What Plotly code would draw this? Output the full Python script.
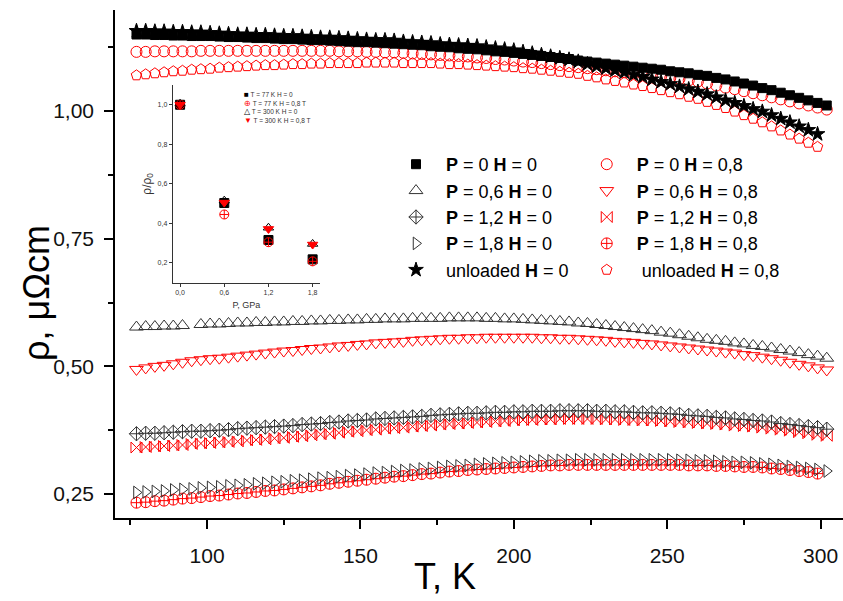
import plotly.graph_objects as go

# ---------------- data ----------------
T = [77, 80, 83, 86, 89, 92, 95, 98, 101, 104, 107, 110, 113, 116, 119, 122, 125, 128,
     131, 134, 137, 140, 143, 146, 149, 152, 155, 158, 161, 164, 167, 170, 173, 176,
     179, 182, 185, 188, 191, 194, 197, 200, 203, 206, 209, 212, 215, 218, 221, 224,
     227, 230, 233, 236, 239, 242, 245, 248, 251, 254, 257, 260, 263, 266, 269, 272,
     275, 278, 281, 284, 287, 290, 293, 296, 299, 302]

rho_P0_H0 = [1.150, 1.150, 1.149, 1.149, 1.148, 1.148, 1.147, 1.147, 1.147, 1.146, 1.145, 1.145,
             1.144, 1.143, 1.143, 1.142, 1.141, 1.141, 1.140, 1.139, 1.139, 1.138, 1.137, 1.136,
             1.135, 1.135, 1.134, 1.133, 1.132, 1.131, 1.130, 1.129, 1.127, 1.126, 1.125, 1.123,
             1.122, 1.121, 1.119, 1.117, 1.116, 1.114, 1.112, 1.110, 1.108, 1.106, 1.104, 1.102,
             1.099, 1.097, 1.095, 1.093, 1.091, 1.089, 1.087, 1.085, 1.083, 1.081, 1.078, 1.076,
             1.074, 1.071, 1.069, 1.065, 1.062, 1.058, 1.054, 1.050, 1.045, 1.041, 1.036, 1.031,
             1.026, 1.021, 1.016, 1.011]

rho_unl_H0 = [1.157, 1.157, 1.156, 1.156, 1.155, 1.155, 1.154, 1.154, 1.153, 1.152, 1.151, 1.150,
              1.150, 1.149, 1.149, 1.148, 1.147, 1.147, 1.146, 1.145, 1.144, 1.144, 1.143, 1.142,
              1.141, 1.140, 1.139, 1.139, 1.138, 1.136, 1.135, 1.134, 1.133, 1.131, 1.130, 1.129,
              1.128, 1.127, 1.125, 1.123, 1.121, 1.119, 1.116, 1.113, 1.110, 1.107, 1.104, 1.101,
              1.097, 1.092, 1.088, 1.084, 1.080, 1.076, 1.071, 1.067, 1.062, 1.057, 1.053, 1.048,
              1.043, 1.038, 1.033, 1.027, 1.021, 1.016, 1.010, 1.004, 0.999, 0.992, 0.985, 0.978,
              0.970, 0.963, 0.955, None]

rho_P0_H08 = [1.116, 1.116, 1.117, 1.117, 1.117, 1.117, 1.117, 1.118, 1.118, 1.118, 1.118, 1.118,
              1.118, 1.118, 1.118, 1.118, 1.118, 1.118, 1.118, 1.118, 1.118, 1.118, 1.117, 1.117,
              1.117, 1.116, 1.116, 1.115, 1.115, 1.114, 1.113, 1.112, 1.111, 1.110, 1.109, 1.108,
              1.107, 1.105, 1.104, 1.102, 1.101, 1.099, 1.097, 1.096, 1.094, 1.092, 1.090, 1.088,
              1.086, 1.084, 1.082, 1.080, 1.078, 1.076, 1.074, 1.072, 1.070, 1.068, 1.065, 1.063,
              1.060, 1.058, 1.054, 1.050, 1.046, 1.043, 1.039, 1.035, 1.031, 1.027, 1.023, 1.019,
              1.015, 1.011, 1.007, 1.003]

rho_unl_H08 = [1.070, 1.072, 1.074, 1.076, 1.078, 1.079, 1.081, 1.082, 1.083, 1.085, 1.086, 1.087,
               1.088, 1.089, 1.090, 1.090, 1.091, 1.092, 1.092, 1.093, 1.093, 1.094, 1.094, 1.094,
               1.094, 1.095, 1.095, 1.095, 1.095, 1.094, 1.094, 1.094, 1.094, 1.093, 1.092, 1.092,
               1.091, 1.090, 1.089, 1.088, 1.087, 1.086, 1.084, 1.083, 1.081, 1.079, 1.077, 1.075,
               1.073, 1.069, 1.066, 1.062, 1.059, 1.056, 1.052, 1.049, 1.045, 1.041, 1.037, 1.033,
               1.028, 1.024, 1.018, 1.012, 1.006, 0.999, 0.992, 0.985, 0.978, 0.970, 0.962, 0.954,
               0.946, 0.938, 0.930, None]

rho_P06_H0 = [0.577, 0.578, 0.578, 0.579, 0.579, 0.580, None, 0.582, 0.583, 0.583, 0.584, 0.585,
              0.585, 0.586, 0.586, 0.587, 0.587, 0.588, 0.588, 0.589, 0.589, 0.590, 0.590, 0.591,
              0.591, 0.592, 0.592, 0.593, 0.593, 0.593, 0.594, 0.594, 0.594, 0.594, 0.595, 0.595,
              0.595, 0.595, 0.594, 0.594, 0.593, 0.593, 0.592, 0.591, 0.590, 0.589, 0.588, 0.587,
              0.585, 0.584, 0.582, 0.580, 0.578, 0.576, 0.574, 0.572, 0.570, 0.567, 0.565, 0.562,
              0.559, 0.556, 0.553, 0.551, 0.549, 0.546, 0.544, 0.541, 0.539, 0.536, 0.533, 0.530,
              0.527, 0.523, 0.520, 0.516]

rho_P06_H08 = [0.494, 0.497, 0.500, 0.502, 0.505, 0.508, 0.511, 0.513, 0.515, 0.516, 0.518, 0.520,
               0.522, 0.524, 0.526, 0.528, 0.530, 0.531, 0.533, 0.535, 0.536, 0.538, 0.540, 0.541,
               0.543, 0.544, 0.546, 0.547, 0.548, 0.549, 0.551, 0.552, 0.553, 0.554, 0.555, 0.555,
               0.556, 0.556, 0.557, 0.557, 0.557, 0.557, 0.557, 0.557, 0.556, 0.556, 0.555, 0.555,
               0.554, 0.553, 0.552, 0.551, 0.549, 0.548, 0.547, 0.545, 0.544, 0.542, 0.540, 0.538,
               0.536, 0.534, 0.532, 0.530, 0.528, 0.526, 0.523, 0.521, 0.518, 0.515, 0.512, 0.508,
               0.504, 0.501, 0.497, 0.493]

rho_P12_H0 = [0.368, 0.369, 0.369, 0.370, 0.371, 0.372, 0.373, 0.373, 0.374, 0.375, 0.376, 0.378,
              0.379, 0.380, 0.381, 0.382, 0.383, 0.384, 0.386, 0.387, 0.388, 0.390, 0.391, 0.393,
              0.394, 0.395, 0.397, 0.398, 0.399, 0.400, 0.401, 0.402, 0.404, 0.405, 0.406, 0.407,
              0.408, 0.408, 0.409, 0.410, 0.410, 0.411, 0.411, 0.412, 0.412, 0.412, 0.413, 0.413,
              0.413, 0.413, 0.412, 0.412, 0.411, 0.411, 0.410, 0.409, 0.409, 0.408, 0.407, 0.406,
              0.404, 0.403, 0.402, 0.400, 0.399, 0.397, 0.396, 0.394, 0.393, 0.391, 0.388, 0.386,
              0.384, 0.382, 0.380, 0.377]

rho_P12_H08 = [0.341, 0.342, 0.343, 0.344, 0.345, 0.346, 0.348, 0.349, 0.350, 0.351, 0.352, 0.353,
               0.355, 0.356, 0.357, 0.359, 0.360, 0.362, 0.363, 0.365, 0.367, 0.368, 0.370, 0.372,
               0.373, 0.375, 0.376, 0.378, 0.379, 0.380, 0.382, 0.383, 0.384, 0.386, 0.387, 0.388,
               0.389, 0.390, 0.391, 0.392, 0.393, 0.394, 0.395, 0.395, 0.396, 0.396, 0.397, 0.397,
               0.397, 0.397, 0.397, 0.396, 0.396, 0.395, 0.395, 0.394, 0.394, 0.393, 0.392, 0.391,
               0.390, 0.389, 0.388, 0.387, 0.386, 0.384, 0.383, 0.382, 0.380, 0.378, 0.376, 0.374,
               0.371, 0.369, 0.366, 0.364]

rho_P18_H0 = [0.253, 0.254, 0.255, 0.256, 0.258, 0.259, 0.260, 0.262, 0.263, 0.264, 0.266, 0.267,
              0.268, 0.270, 0.271, 0.273, 0.274, 0.276, 0.277, 0.279, 0.281, 0.282, 0.284, 0.286,
              0.287, 0.289, 0.291, 0.292, 0.294, 0.296, 0.297, 0.299, 0.300, 0.302, 0.304, 0.305,
              0.306, 0.308, 0.309, 0.310, 0.311, 0.312, 0.313, 0.314, 0.315, 0.315, 0.316, 0.316,
              0.317, 0.317, 0.317, 0.317, 0.317, 0.317, 0.317, 0.317, 0.317, 0.317, 0.317, 0.316,
              0.316, 0.315, 0.315, 0.314, 0.313, 0.312, 0.312, 0.311, 0.309, 0.308, 0.306, 0.304,
              0.302, 0.300, 0.298, 0.295]

rho_P18_H08 = [0.233, 0.234, 0.236, 0.237, 0.239, 0.241, 0.242, 0.244, 0.246, 0.247, 0.249, 0.251,
               0.252, 0.254, 0.256, 0.257, 0.259, 0.261, 0.263, 0.265, 0.267, 0.270, 0.272, 0.274,
               0.276, 0.278, 0.280, 0.282, 0.284, 0.285, 0.287, 0.289, 0.290, 0.292, 0.294, 0.295,
               0.297, 0.298, 0.299, 0.300, 0.301, 0.302, 0.303, 0.304, 0.305, 0.306, 0.306, 0.307,
               0.307, 0.307, 0.307, 0.307, 0.307, 0.307, 0.307, 0.307, 0.307, 0.307, 0.307, 0.307,
               0.306, 0.306, 0.306, 0.305, 0.305, 0.304, 0.303, 0.303, 0.302, 0.300, 0.299, 0.297,
               0.295, 0.293, 0.290, None]

# inset: normalised resistivity vs pressure
P_inset = [0.0, 0.6, 1.2, 1.8]
norm_77_H0 = [1.000, 0.503, 0.316, 0.218]
norm_77_H08 = [1.000, 0.445, 0.305, 0.208]
norm_300_H0 = [1.005, 0.515, 0.378, 0.296]
norm_300_H08 = [1.000, 0.505, 0.372, 0.293]

y_tick_vals = [0.25, 0.50, 0.75, 1.00]
y_tick_text = ["0,25", "0,50", "0,75", "1,00"]
x_tick_vals = [100, 150, 200, 250, 300]
inset_x_ticks = [0.0, 0.6, 1.2, 1.8]
inset_x_text = ["0,0", "0,6", "1,2", "1,8"]
inset_y_ticks = [0.2, 0.4, 0.6, 0.8, 1.0]
inset_y_text = ["0,2", "0,4", "0,6", "0,8", "1,0"]

# ---------------- figure ----------------
FONT = "Liberation Sans, Arial, sans-serif"
BLACK = "#000000"
GREY = "#333333"
RED = "#ff0000"
NB = "\u00a0\u00a0"  # small gap between legend symbol and text

fig = go.Figure()

red_series = [
    (NB + "<b>P</b> = 0 <b>H</b> = 0,8", rho_P0_H08, "circle-open", 11),
    (NB + "<b>P</b> = 0,6 <b>H</b> = 0,8", rho_P06_H08, "triangle-down-open", 12),
    (NB + "<b>P</b> = 1,2 <b>H</b> = 0,8", rho_P12_H08, "bowtie-open", 11),
    (NB + "<b>P</b> = 1,8 <b>H</b> = 0,8", rho_P18_H08, "circle-cross-open", 11),
    (NB + "\u00a0unloaded <b>H</b> = 0,8", rho_unl_H08, "pentagon-open", 11),
]
black_series = [
    (NB + "<b>P</b> = 0 <b>H</b> = 0", rho_P0_H0, "square", 9, BLACK),
    (NB + "<b>P</b> = 0,6 <b>H</b> = 0", rho_P06_H0, "triangle-up-open", 12, GREY),
    (NB + "<b>P</b> = 1,2 <b>H</b> = 0", rho_P12_H0, "diamond-cross-open", 11, GREY),
    (NB + "<b>P</b> = 1,8 <b>H</b> = 0", rho_P18_H0, "triangle-right-open", 11, GREY),
    (NB + "unloaded <b>H</b> = 0", rho_unl_H0, "star", 11, BLACK),
]

for i, (name, vals, sym, size) in enumerate(red_series):
    fig.add_trace(go.Scatter(
        x=T, y=vals, mode="markers", name=name, legend="legend2", legendrank=i + 1,
        marker=dict(symbol=sym, size=size, color=RED, line=dict(color=RED, width=1)),
    ))

for i, (name, vals, sym, size, col) in enumerate(black_series):
    fig.add_trace(go.Scatter(
        x=T, y=vals, mode="markers", name=name, legend="legend", legendrank=i + 1,
        marker=dict(symbol=sym, size=size, color=col, line=dict(color=col, width=1)),
    ))

# inset traces
inset_series = [
    (norm_77_H0, "square", BLACK),
    (norm_77_H08, "circle-cross-open", RED),
    (norm_300_H0, "triangle-up-open", BLACK),
    (norm_300_H08, "triangle-down", RED),
]
for vals, sym, col in inset_series:
    fig.add_trace(go.Scatter(
        x=P_inset, y=vals, mode="markers", xaxis="x2", yaxis="y2", showlegend=False,
        marker=dict(symbol=sym, size=9, color=col, line=dict(color=col, width=1)),
    ))

axis_common = dict(showline=True, linecolor=BLACK, linewidth=1.5, ticks="outside",
                   tickcolor=BLACK, tickwidth=1.5, ticklen=9, showgrid=False,
                   zeroline=False, mirror=False)

fig.update_layout(
    width=843, height=601,
    margin=dict(l=115, r=0, t=10, b=83),
    paper_bgcolor="white", plot_bgcolor="white",
    font=dict(family=FONT, color=BLACK),
    xaxis=dict(
        **axis_common, range=[70, 307.3], tickmode="array", tickvals=x_tick_vals,
        tickfont=dict(size=21, color="#111111"), ticklabelstandoff=9,
        minor=dict(tickmode="array", tickvals=[75, 125, 175, 225, 275], ticks="outside",
                   ticklen=5, tickwidth=1.5, tickcolor=BLACK),
    ),
    yaxis=dict(
        **axis_common, range=[0.203, 1.198], tickmode="array", tickvals=y_tick_vals,
        ticktext=y_tick_text, tickfont=dict(size=21, color="#111111"), ticklabelstandoff=6,
        minor=dict(tickmode="array", tickvals=[0.375, 0.625, 0.875, 1.125], ticks="outside",
                   ticklen=5, tickwidth=1.5, tickcolor=BLACK),
    ),
    xaxis2=dict(
        domain=[0.0793, 0.2816], anchor="y2", range=[-0.1, 1.9], showline=True,
        linecolor=GREY, linewidth=1, ticks="outside", ticklen=3, tickcolor=GREY,
        tickmode="array", tickvals=inset_x_ticks, ticktext=inset_x_text,
        tickfont=dict(size=7, color=GREY), showgrid=False, zeroline=False,
        title=dict(text="P, GPa", font=dict(size=9, color=GREY), standoff=6),
    ),
    yaxis2=dict(
        domain=[0.4632, 0.8524], anchor="x2", range=[0.1, 1.1], showline=True,
        linecolor=GREY, linewidth=1, ticks="outside", ticklen=3, tickcolor=GREY,
        tickmode="array", tickvals=inset_y_ticks, ticktext=inset_y_text,
        tickfont=dict(size=7, color=GREY), showgrid=False, zeroline=False,
        title=dict(text="ρ/ρ<sub>0</sub>", font=dict(size=12, color=GREY), standoff=3),
    ),
    legend=dict(x=0.386, y=0.7323, xanchor="left", yanchor="top",
                font=dict(family=FONT, size=18, color=BLACK), bgcolor="rgba(0,0,0,0)",
                traceorder="normal"),
    legend2=dict(x=0.648, y=0.7323, xanchor="left", yanchor="top",
                 font=dict(family=FONT, size=18, color=BLACK), bgcolor="rgba(0,0,0,0)",
                 traceorder="normal"),
)

# axis titles (placed like the reference)
fig.add_annotation(text="T, K", x=0.4533, y=-0.1142, xref="paper", yref="paper",
                   xanchor="center", yanchor="middle", showarrow=False,
                   font=dict(size=36, color=BLACK, family=FONT))
fig.add_annotation(text="ρ, μΩcm", x=-0.1085, y=0.4429, xref="paper", yref="paper",
                   xanchor="center", yanchor="middle", showarrow=False, textangle=-90,
                   font=dict(size=36, color=BLACK, family=FONT))

# inset legend (text annotations)
inset_legend = [
    ("<span style='color:#000000;font-size:8px'>■</span> T = 77 K H = 0", 0.8327),
    ("<span style='color:#ff0000;font-size:8px'>⊕</span> T = 77 K H = 0,8 T", 0.8160),
    ("<span style='color:#000000;font-size:8px'>△</span> T = 300 K H = 0", 0.7993),
    ("<span style='color:#ff0000;font-size:8px'>▼</span> T = 300 K H = 0,8 T", 0.7826),
]
for txt, yy in inset_legend:
    fig.add_annotation(text=txt, x=0.1745, y=yy, xref="paper", yref="paper",
                       xanchor="left", yanchor="middle", showarrow=False,
                       font=dict(size=6.5, color=GREY, family=FONT))

fig.write_html("out.html")
